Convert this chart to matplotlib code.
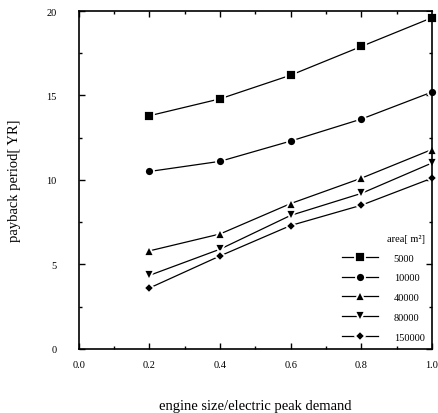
import matplotlib
matplotlib.use("Agg")
import matplotlib.pyplot as plt
from matplotlib.ticker import MultipleLocator, FormatStrFormatter

plt.rcParams['font.family'] = ['Liberation Serif', 'DejaVu Serif']

ratio = [0.2, 0.4, 0.6, 0.8, 1.0]
area_labels = ['5000', '10000', '40000', '80000', '150000']
markers = ['s', 'o', '^', 'v', 'D']
payback = [
    [13.8, 14.8, 16.2, 17.9, 19.6],
    [10.5, 11.1, 12.3, 13.6, 15.2],
    [5.8, 6.8, 8.6, 10.1, 11.8],
    [4.35, 5.9, 7.9, 9.2, 11.0],
    [3.6, 5.5, 7.3, 8.5, 10.1],
]

fig = plt.figure(figsize=(4.38, 4.14), dpi=100)
ax = fig.add_axes([0.180, 0.155, 0.806, 0.816])

for vals, lab, m in zip(payback, area_labels, markers):
    ms = 5.5 if m == 'D' else 6.5
    ax.plot(ratio, vals, color='black', linewidth=0.9, marker=m, markersize=ms,
            markerfacecolor='black', markeredgecolor='white', markeredgewidth=1.3,
            label=lab, clip_on=False)

ax.set_xlim(0.0, 1.0)
ax.set_ylim(0, 20)
ax.xaxis.set_major_locator(MultipleLocator(0.2))
ax.xaxis.set_minor_locator(MultipleLocator(0.1))
ax.xaxis.set_major_formatter(FormatStrFormatter('%.1f'))
ax.yaxis.set_major_locator(MultipleLocator(5))
ax.yaxis.set_minor_locator(MultipleLocator(2.5))
ax.tick_params(which='both', direction='in', top=True, right=True, labelsize=7.5, width=1)
ax.tick_params(which='major', length=4)
ax.tick_params(which='minor', length=2)
ax.tick_params(axis='x', which='major', pad=8)
ax.tick_params(axis='y', which='major', pad=16)
for s in ax.spines.values():
    s.set_linewidth(1.2)

ax.set_xlabel('engine size/electric peak demand', fontsize=10.5, labelpad=22)
ax.set_ylabel('payback period[ YR]', fontsize=10.5, labelpad=18)

leg = ax.legend(title='area[ m²]', loc='lower right', frameon=False, fontsize=7.5,
                title_fontsize=7.5, handlelength=3.5, labelspacing=1.0,
                borderaxespad=0.3, handletextpad=1.5)
leg._legend_box.align = 'right'

fig.savefig('out.png', dpi=100)
